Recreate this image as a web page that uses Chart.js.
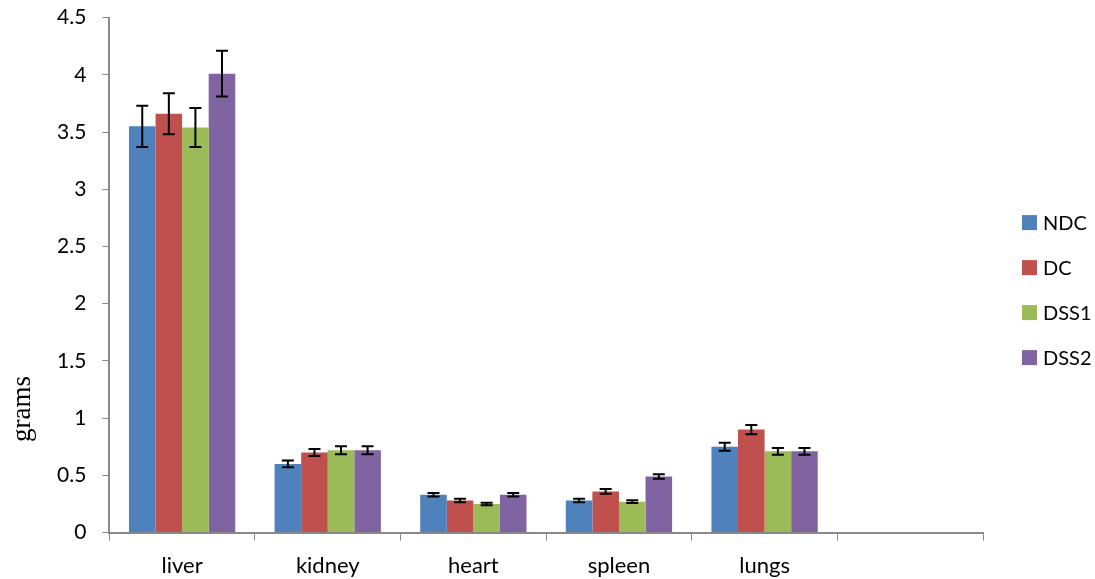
<!DOCTYPE html>
<html><head><meta charset="utf-8">
<script src="https://cdn.jsdelivr.net/npm/chart.js@4.4.0/dist/chart.umd.min.js"></script>
<style>html,body{margin:0;padding:0;background:#fff;overflow:hidden}#wrap{width:1095px;height:579px;overflow:hidden}#c{display:block;margin-top:-11px}</style>
</head><body><div id="wrap"><canvas id="c" width="1095" height="602"></canvas></div>
<script>
const categories = ["liver", "kidney", "heart", "spleen", "lungs", ""];
const seriesNames = ["NDC", "DC", "DSS1", "DSS2"];
const NDC  = [3.55, 0.60, 0.33, 0.28, 0.75];
const DC   = [3.66, 0.70, 0.28, 0.36, 0.90];
const DSS1 = [3.54, 0.72, 0.25, 0.27, 0.71];
const DSS2 = [4.01, 0.72, 0.33, 0.49, 0.71];
const errNDC  = [0.18, 0.03, 0.015, 0.015, 0.035];
const errDC   = [0.18, 0.03, 0.015, 0.02, 0.04];
const errDSS1 = [0.17, 0.035, 0.01, 0.012, 0.03];
const errDSS2 = [0.20, 0.035, 0.015, 0.02, 0.03];
const colors = ["#4F81BD", "#C0504D", "#9BBB59", "#8064A2"];
const yTicks = [0, 0.5, 1, 1.5, 2, 2.5, 3, 3.5, 4, 4.5];

const values = [NDC, DC, DSS1, DSS2];
const errors = [errNDC, errDC, errDSS1, errDSS2];

const errorBars = {
  id: 'errorBars',
  afterDatasetsDraw(chart) {
    const ctx = chart.ctx, y = chart.scales.y;
    ctx.save();
    ctx.strokeStyle = '#000';
    ctx.lineWidth = 2;
    chart.data.datasets.forEach((ds, i) => {
      const meta = chart.getDatasetMeta(i);
      meta.data.forEach((bar, j) => {
        const e = errors[i][j];
        if (e === undefined || ds.data[j] == null) return;
        const v = ds.data[j];
        const x = bar.x;
        const yt = y.getPixelForValue(v + e), yb = y.getPixelForValue(v - e);
        const cap = 6;
        ctx.beginPath();
        ctx.moveTo(x, yt); ctx.lineTo(x, yb);
        ctx.moveTo(x - cap, yt); ctx.lineTo(x + cap, yt);
        ctx.moveTo(x - cap, yb); ctx.lineTo(x + cap, yb);
        ctx.stroke();
      });
    });
    ctx.restore();
  }
};

const yTitle = {
  id: 'yTitle',
  afterDraw(chart) {
    const ctx = chart.ctx;
    ctx.save();
    ctx.fillStyle = '#000';
    ctx.font = '27px "Liberation Serif"';
    ctx.translate(23, 420);
    ctx.rotate(-Math.PI / 2);
    ctx.textAlign = 'center';
    ctx.textBaseline = 'middle';
    ctx.fillText('grams', 0, 0);
    ctx.restore();
  }
};

const sideLegend = {
  id: 'sideLegend',
  afterDraw(chart) {
    const ctx = chart.ctx, a = chart.chartArea;
    const x0 = a.right + 39;
    const midY = (a.top + a.bottom) / 2 + 15;
    const gap = 45;
    const n = chart.data.datasets.length;
    ctx.save();
    ctx.font = '20px Lato';
    ctx.textBaseline = 'middle';
    ctx.textAlign = 'left';
    chart.data.datasets.forEach((ds, i) => {
      const cy = midY + (i - (n - 1) / 2) * gap;
      ctx.fillStyle = ds.backgroundColor;
      ctx.fillRect(x0, cy - 7.5, 15, 15);
      ctx.fillStyle = '#000';
      ctx.fillText(ds.label, x0 + 21, cy + 1);
    });
    ctx.restore();
  }
};

new Chart(document.getElementById('c'), {
  type: 'bar',
  data: {
    labels: categories,
    datasets: seriesNames.map((n, i) => ({
      label: n,
      data: values[i],
      backgroundColor: colors[i],
      borderWidth: 0
    }))
  },
  plugins: [errorBars, yTitle, sideLegend],
  options: {
    responsive: false,
    animation: false,
    devicePixelRatio: 1,
    layout: { padding: { left: 41, top: 0, right: 112, bottom: 0 } },
    datasets: { bar: { categoryPercentage: 0.73, barPercentage: 1.0 } },
    plugins: {
      legend: { display: false },
      tooltip: { enabled: false }
    },
    scales: {
      x: {
        offset: true,
        grid: { display: true, drawOnChartArea: false, offset: true, tickLength: 8, color: '#888', lineWidth: 1 },
        border: { display: true, color: '#888', width: 2 },
        ticks: { color: '#000', font: { family: 'Lato', size: 22 }, padding: 12 }
      },
      y: {
        min: 0, max: 4.5,
        afterBuildTicks(scale) { scale.ticks = yTicks.map(v => ({ value: v })); },
        grid: { display: true, drawOnChartArea: false, tickLength: 7, color: '#888' },
        border: { display: true, color: '#888', width: 2 },
        ticks: { color: '#000', font: { family: 'Lato', size: 21 }, padding: 16,
                 callback: v => String(v) }
      }
    }
  }
});
</script></body></html>
